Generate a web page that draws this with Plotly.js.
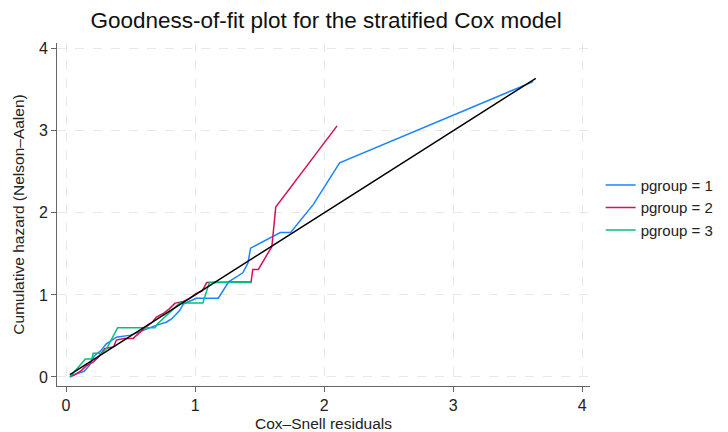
<!DOCTYPE html>
<html>
<head>
<meta charset="utf-8">
<script src="https://cdn.plot.ly/plotly-3.0.1.min.js"></script>
<style>html,body{margin:0;padding:0;background:#fff;}#chart{width:728px;height:432px;}</style>
</head>
<body>
<div id="chart"></div>
<script>
// pgroup = 1
const g1x = [0.03, 0.07, 0.14, 0.18, 0.22, 0.27, 0.31, 0.39, 0.50, 0.57, 0.68, 0.78, 0.82, 0.88, 0.91, 1.01, 1.18, 1.26, 1.37, 1.41, 1.43, 1.66, 1.74, 1.915, 2.12, 3.62];
const g1y = [0.01, 0.03, 0.07, 0.14, 0.26, 0.32, 0.40, 0.485, 0.51, 0.55, 0.62, 0.67, 0.71, 0.81, 0.89, 0.96, 0.96, 1.16, 1.27, 1.39, 1.57, 1.76, 1.76, 2.10, 2.61, 3.60];
// pgroup = 2
const g2x = [0.03, 0.07, 0.12, 0.16, 0.21, 0.25, 0.30, 0.37, 0.39, 0.45, 0.52, 0.56, 0.62, 0.67, 0.70, 0.75, 0.80, 0.845, 0.91, 0.96, 1.01, 1.055, 1.09, 1.434, 1.447, 1.49, 1.595, 1.625, 2.10];
const g2y = [0.00, 0.03, 0.08, 0.14, 0.18, 0.24, 0.345, 0.37, 0.45, 0.47, 0.47, 0.53, 0.61, 0.67, 0.73, 0.77, 0.83, 0.90, 0.92, 0.96, 1.02, 1.05, 1.15, 1.16, 1.31, 1.31, 1.59, 2.07, 3.06];
// pgroup = 3
const g3x = [0.03, 0.11, 0.15, 0.20, 0.21, 0.28, 0.32, 0.40, 0.69, 0.71, 0.78, 0.845, 0.88, 1.06, 1.11, 1.44];
const g3y = [0.00, 0.14, 0.22, 0.22, 0.29, 0.29, 0.36, 0.60, 0.60, 0.65, 0.75, 0.85, 0.90, 0.90, 1.15, 1.15];
// reference line
const refx = [0.03, 3.64];
const refy = [0.03, 3.64];

const seriesNames = ["pgroup = 1", "pgroup = 2", "pgroup = 3"];
const tickVals = [0, 1, 2, 3, 4];

const traces = [
  {x: g1x, y: g1y, name: seriesNames[0], mode: "lines", line: {color: "#1a85ff", width: 1.5}},
  {x: g2x, y: g2y, name: seriesNames[1], mode: "lines", line: {color: "#d41159", width: 1.5}},
  {x: g3x, y: g3y, name: seriesNames[2], mode: "lines", line: {color: "#00bf7f", width: 1.5}},
  {x: refx, y: refy, name: "ref", mode: "lines", showlegend: false, line: {color: "#000000", width: 1.5}}
];

const axisCommon = {
  tickvals: tickVals,
  ticks: "outside", ticklen: 5, tickcolor: "#666", tickwidth: 1,
  showline: true, linecolor: "#666", linewidth: 1,
  showgrid: true, gridcolor: "#e8e8e8", griddash: "dash", gridwidth: 1,
  zeroline: false,
  tickfont: {family: "Liberation Sans, Arial, sans-serif", size: 16, color: "#222"}
};

const layout = {
  width: 728, height: 432,
  margin: {l: 57, r: 138, t: 43, b: 46, autoexpand: false},
  paper_bgcolor: "#fff", plot_bgcolor: "#fff",
  font: {family: "Liberation Sans, Arial, sans-serif", color: "#222"},
  title: {text: "Goodness-of-fit plot for the stratified Cox model", x: 0.448, xanchor: "center", y: 0.953, yanchor: "middle",
          font: {size: 22.5, color: "#111"}},
  xaxis: Object.assign({}, axisCommon, {range: [-0.07, 4.06],
          title: {text: "Cox\u2013Snell residuals", font: {size: 15.5}, standoff: 4}}),
  yaxis: Object.assign({}, axisCommon, {range: [-0.11, 4.07],
          title: {text: "Cumulative hazard (Nelson\u2013Aalen)", font: {size: 15.5}, standoff: 10}}),
  legend: {x: 1.02, xanchor: "left", y: 0.52, yanchor: "middle",
           font: {size: 15, color: "#222"}, tracegroupgap: 0, itemwidth: 30, bgcolor: "rgba(0,0,0,0)"},
  showlegend: true
};

Plotly.newPlot("chart", traces, layout, {displayModeBar: false, staticPlot: true});
</script>
</body>
</html>
